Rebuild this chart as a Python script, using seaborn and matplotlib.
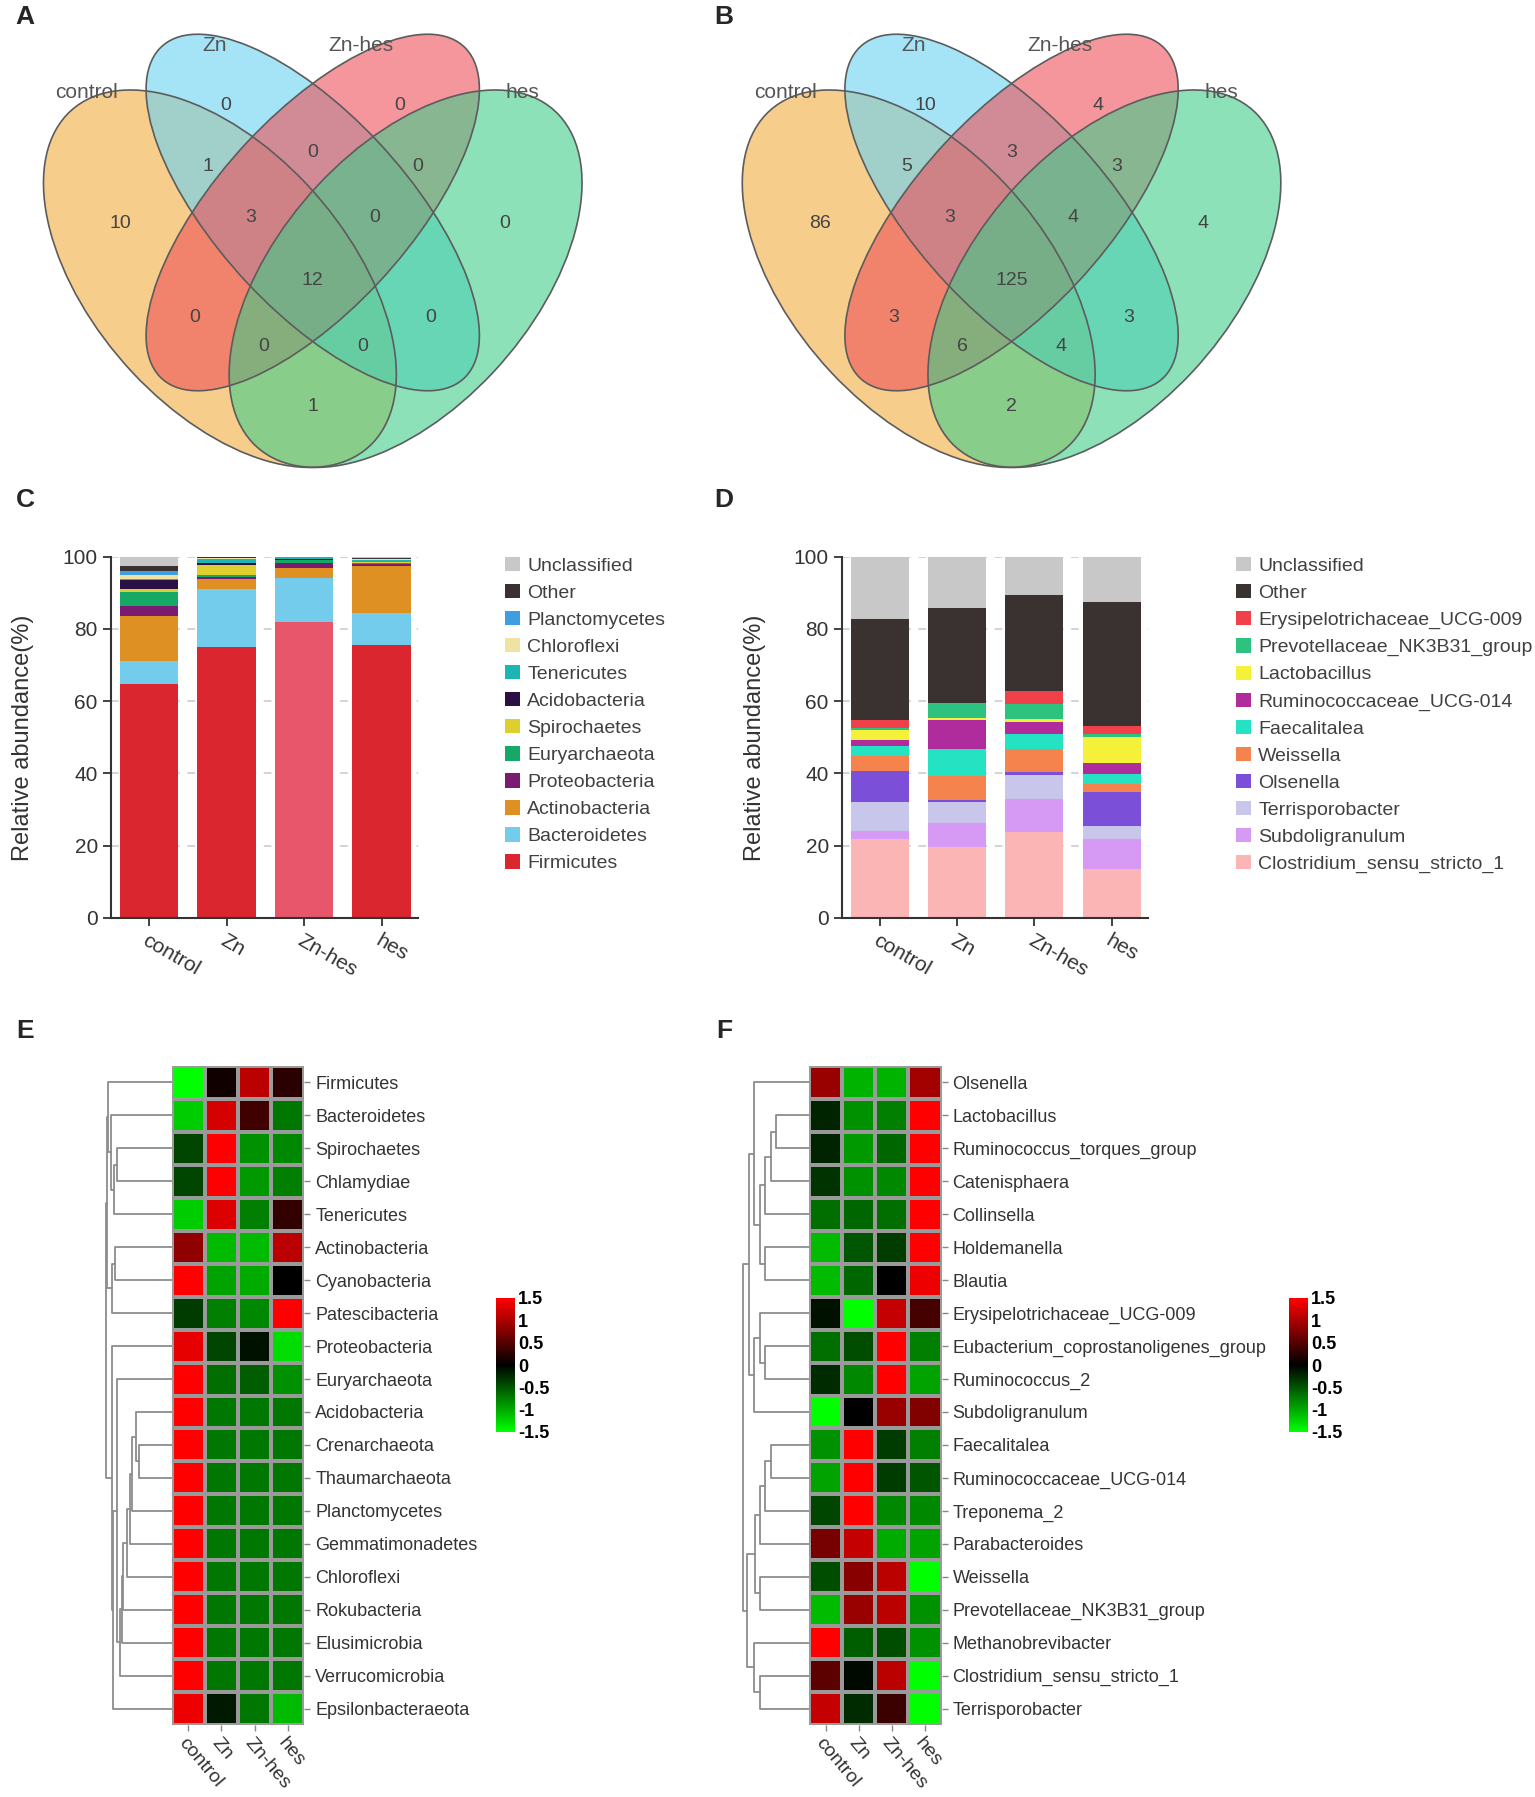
import numpy as np
import pandas as pd
import matplotlib
matplotlib.use("Agg")
import matplotlib.pyplot as plt
from matplotlib.patches import Ellipse, Patch
from matplotlib.colors import LinearSegmentedColormap, to_rgba
import seaborn as sns

W, H = 1535, 1797

groups = ["control", "Zn", "Zn-hes", "hes"]

# ---- Venn A / B ----
# region keys = which sets share the items (1=control, 2=Zn, 3=Zn-hes, 4=hes)
venn_regions = ["1", "2", "3", "4", "12", "23", "34", "13", "24", "14",
                "123", "234", "1234", "134", "124"]
venn_a_counts = [10, 0, 0, 0, 1, 0, 0, 0, 0, 1, 3, 0, 12, 0, 0]
venn_b_counts = [86, 10, 4, 4, 5, 3, 3, 3, 3, 2, 3, 4, 125, 6, 4]
venn_colors = ["#F2AC3F", "#69D2F2", "#EE5058", "#3FCD8A"]

# ---- C: phylum level relative abundance (bottom -> top) ----
phyla = ["Firmicutes", "Bacteroidetes", "Actinobacteria", "Proteobacteria",
         "Euryarchaeota", "Spirochaetes", "Acidobacteria", "Tenericutes",
         "Chloroflexi", "Planctomycetes", "Other", "Unclassified"]
phyla_control = [64.7, 6.5, 12.5, 2.7, 3.9, 0.7, 2.5, 0.3, 1.0, 1.2, 1.5, 2.5]
phyla_zn = [74.9, 16.1, 2.8, 0.7, 0.3, 2.9, 0.6, 1.2, 0.1, 0.1, 0.1, 0.2]
phyla_znhes = [82.0, 12.0, 3.0, 1.2, 0.9, 0.1, 0.1, 0.3, 0.1, 0.1, 0.1, 0.1]
phyla_hes = [75.6, 8.7, 13.2, 0.4, 0.3, 0.2, 0.2, 0.5, 0.2, 0.1, 0.2, 0.4]
phyla_colors = ["#D9262F", "#74CCEC", "#DE9122", "#7A1B72", "#16A865", "#DCCF2E",
                "#2B1046", "#1DB4B4", "#EEE3A2", "#3E9EE0", "#3A3230", "#C8C8C8"]

# ---- D: genus level relative abundance (bottom -> top) ----
genera = ["Clostridium_sensu_stricto_1", "Subdoligranulum", "Terrisporobacter",
          "Olsenella", "Weissella", "Faecalitalea", "Ruminococcaceae_UCG-014",
          "Lactobacillus", "Prevotellaceae_NK3B31_group",
          "Erysipelotrichaceae_UCG-009", "Other", "Unclassified"]
genera_control = [22.0, 2.0, 8.0, 8.6, 4.3, 2.8, 1.6, 2.6, 0.6, 2.2, 28.1, 17.2]
genera_zn = [19.7, 6.7, 5.7, 0.6, 6.5, 7.6, 7.9, 0.6, 4.1, 0.1, 26.3, 14.2]
genera_znhes = [23.9, 8.9, 6.7, 0.9, 6.3, 4.2, 3.3, 0.8, 4.2, 3.7, 26.5, 10.6]
genera_hes = [13.7, 8.3, 3.5, 9.5, 2.0, 2.8, 3.2, 7.0, 1.0, 2.2, 34.4, 12.4]
genera_colors = ["#FBB5B5", "#D69AF4", "#C9C6EC", "#7B4FD8", "#F5834D", "#25E2C2",
                 "#B02C9C", "#F5F03A", "#2DC27E", "#F0404A", "#3A3230", "#C8C8C8"]

# ---- E: phylum heatmap (row z-scores) ----
e_taxa = ["Firmicutes", "Bacteroidetes", "Spirochaetes", "Chlamydiae", "Tenericutes",
          "Actinobacteria", "Cyanobacteria", "Patescibacteria", "Proteobacteria",
          "Euryarchaeota", "Acidobacteria", "Crenarchaeota", "Thaumarchaeota",
          "Planctomycetes", "Gemmatimonadetes", "Chloroflexi", "Rokubacteria",
          "Elusimicrobia", "Verrucomicrobia", "Epsilonbacteraeota"]
e_values = [
    [-1.5, 0.1, 1.1, 0.25],
    [-1.2, 1.25, 0.38, -0.7],
    [-0.4, 1.5, -0.85, -0.8],
    [-0.4, 1.5, -0.9, -0.75],
    [-1.2, 1.3, -0.75, 0.3],
    [0.85, -1.1, -1.1, 1.1],
    [1.5, -0.95, -1.0, 0.0],
    [-0.35, -0.75, -0.8, 1.5],
    [1.35, -0.4, -0.1, -1.3],
    [1.5, -0.65, -0.55, -0.85],
    [1.5, -0.7, -0.7, -0.7],
    [1.5, -0.7, -0.7, -0.7],
    [1.5, -0.7, -0.7, -0.7],
    [1.5, -0.7, -0.7, -0.7],
    [1.5, -0.7, -0.7, -0.7],
    [1.5, -0.7, -0.7, -0.7],
    [1.5, -0.7, -0.7, -0.7],
    [1.5, -0.7, -0.7, -0.7],
    [1.5, -0.7, -0.7, -0.7],
    [1.4, -0.15, -0.7, -1.1],
]
# row tree: [child a, child b, height]
e_tree = [[11, 12, 32.4], [10, 20, 35.7], [21, 13, 40], [22, 14, 41.7],
          [23, 15, 45], [24, 16, 48.4], [25, 17, 50], [26, 18, 51.7],
          [2, 3, 55], [9, 27, 55], [5, 6, 56.7], [28, 4, 57.4], [29, 19, 58.4],
          [30, 7, 60], [8, 32, 60], [1, 31, 60.7], [0, 35, 63.4], [36, 33, 64.5],
          [37, 34, 66]]

# ---- F: genus heatmap ----
f_taxa = ["Olsenella", "Lactobacillus", "Ruminococcus_torques_group", "Catenisphaera",
          "Collinsella", "Holdemanella", "Blautia", "Erysipelotrichaceae_UCG-009",
          "Eubacterium_coprostanoligenes_group", "Ruminococcus_2", "Subdoligranulum",
          "Faecalitalea", "Ruminococcaceae_UCG-014", "Treponema_2", "Parabacteroides",
          "Weissella", "Prevotellaceae_NK3B31_group", "Methanobrevibacter",
          "Clostridium_sensu_stricto_1", "Terrisporobacter"]
f_values = [
    [0.9, -1.05, -1.05, 0.95],
    [-0.2, -0.85, -0.75, 1.5],
    [-0.2, -0.9, -0.6, 1.5],
    [-0.3, -0.85, -0.8, 1.5],
    [-0.65, -0.6, -0.65, 1.5],
    [-1.1, -0.5, -0.35, 1.5],
    [-1.1, -0.6, 0.0, 1.4],
    [-0.1, -1.5, 1.15, 0.4],
    [-0.65, -0.45, 1.5, -0.75],
    [-0.25, -0.8, 1.5, -0.95],
    [-1.5, 0.0, 0.9, 0.75],
    [-0.85, 1.5, -0.35, -0.75],
    [-0.95, 1.5, -0.35, -0.5],
    [-0.4, 1.5, -0.8, -0.8],
    [0.7, 1.15, -1.0, -0.95],
    [-0.45, 0.8, 1.1, -1.5],
    [-1.1, 0.9, 1.1, -0.85],
    [1.5, -0.55, -0.45, -0.85],
    [0.55, -0.05, 1.1, -1.5],
    [1.15, -0.25, 0.35, -1.5],
]
f_tree = [[1, 2, 33], [20, 3, 38.3], [21, 4, 44], [5, 6, 44], [22, 23, 49],
          [0, 24, 55], [8, 9, 44], [7, 26, 49], [27, 10, 55], [25, 28, 60],
          [11, 12, 38.3], [30, 13, 44], [31, 14, 49], [15, 16, 49], [32, 33, 54],
          [18, 19, 49], [17, 35, 55], [34, 36, 62], [29, 37, 66]]

sns.set_theme(style="white")
plt.rcParams["font.family"] = ["Liberation Sans", "DejaVu Sans"]
plt.rcParams["axes.unicode_minus"] = False

fig = plt.figure(figsize=(W / 100, H / 100), dpi=100)
fig.patch.set_facecolor("white")


def px_axes(x0, y0, x1, y1):
    return fig.add_axes([x0 / W, 1 - y1 / H, (x1 - x0) / W, (y1 - y0) / H])


# ================= Venn =================
ellipse_specs = [((0.35, 0.47), 0.35, 0.20, -45), ((0.50, 0.57), 0.35, 0.15, -45),
                 ((0.50, 0.57), 0.35, 0.15, 45), ((0.65, 0.47), 0.35, 0.20, 45)]
region_xy = {"1": (0.19, 0.554), "2": (0.36, 0.732), "3": (0.64, 0.732), "4": (0.81, 0.554),
             "12": (0.33, 0.64), "23": (0.5, 0.661), "34": (0.67, 0.64),
             "13": (0.31, 0.412), "24": (0.69, 0.412), "14": (0.5, 0.277),
             "123": (0.40, 0.562), "234": (0.60, 0.562), "1234": (0.5, 0.467),
             "134": (0.42, 0.368), "124": (0.58, 0.368)}
set_label_xy = [(0.135, 0.752), (0.341, 0.822), (0.578, 0.822), (0.839, 0.752)]


def draw_venn(ax, counts):
    ax.set_xlim(0.065, 0.935)
    ax.set_ylim(0.185, 0.839)
    ax.axis("off")
    for (c, a, b, ang), col in zip(ellipse_specs, venn_colors):
        ax.add_patch(Ellipse(c, 2 * a, 2 * b, angle=ang, facecolor=to_rgba(col, 0.6),
                             edgecolor="none", clip_on=False))
    for (c, a, b, ang) in ellipse_specs:
        ax.add_patch(Ellipse(c, 2 * a, 2 * b, angle=ang, facecolor="none",
                             edgecolor="#5c5c5c", lw=1.2, clip_on=False))
    for key, n in zip(venn_regions, counts):
        x, y = region_xy[key]
        ax.text(x, y, str(n), ha="center", va="center", fontsize=14, color="#444444")
    for (x, y), g in zip(set_label_xy, groups):
        ax.text(x, y, g, ha="center", va="center", fontsize=15, color="#555555")


draw_venn(px_axes(43.5, 34.4, 582, 467.4), venn_a_counts)
draw_venn(px_axes(742.3, 34.4, 1280.8, 467.4), venn_b_counts)


# ================= stacked bars =================
def draw_stack(ax, names, table, colors, legend_xy, override=None):
    x = np.arange(len(groups))
    bottom = np.zeros(len(groups))
    for name, col in zip(names, colors):
        vals = table[name].values
        cols = [override.get((g, name), col) if override else col for g in groups]
        ax.bar(x, vals, bottom=bottom, width=0.75, color=cols, linewidth=0, zorder=2)
        bottom += vals
    ax.set_xlim(-0.49, 3.47)
    ax.set_ylim(0, 100)
    ax.set_yticks(range(0, 101, 20))
    ax.set_xticks(x)
    ax.set_xticklabels(groups, rotation=-30, ha="left", rotation_mode="anchor")
    ax.grid(axis="y", color="#c8c8c8", ls=(0, (5, 5)), lw=1.1, zorder=0)
    ax.grid(axis="x", visible=False)
    for s in ["top", "right"]:
        ax.spines[s].set_visible(False)
    for s in ["left", "bottom"]:
        ax.spines[s].set_color("#333333")
        ax.spines[s].set_linewidth(1.5)
    ax.tick_params(length=6, width=1.3, color="#333333", labelsize=15,
                   labelcolor="#333333", left=True, bottom=True)
    ax.set_ylabel("Relative abundance(%)", fontsize=17, color="#333333")
    ax.yaxis.set_label_coords(-0.25, 0.5)
    handles = [Patch(facecolor=c, edgecolor="none") for c in colors][::-1]
    ax.legend(handles, names[::-1], loc="upper left", bbox_to_anchor=legend_xy,
              bbox_transform=fig.transFigure, frameon=False, fontsize=14,
              handlelength=0.75, handleheight=0.75, handletextpad=0.4,
              labelspacing=0.47, borderaxespad=0, borderpad=0, labelcolor="#404040")


phyla_table = pd.DataFrame([phyla_control, phyla_zn, phyla_znhes, phyla_hes],
                           index=groups, columns=phyla)
genera_table = pd.DataFrame([genera_control, genera_zn, genera_znhes, genera_hes],
                            index=groups, columns=genera)

axC = px_axes(111, 556.7, 418, 918)
draw_stack(axC, phyla, phyla_table, phyla_colors, (505 / W, 1 - 557 / H),
           override={("Zn-hes", "Firmicutes"): "#E8566B"})
axD = px_axes(842, 556.7, 1148, 918)
draw_stack(axD, genera, genera_table, genera_colors, (1236 / W, 1 - 557 / H))

# ================= heatmaps =================
cmap = LinearSegmentedColormap.from_list("gkr", ["#00FF00", "#000000", "#FF0000"])


def draw_dendro(dax, tree, n):
    pos = {i: (i + 0.5, 0.0) for i in range(n)}
    for k, (a, b, h) in enumerate(tree):
        ya, ha_ = pos[a]
        yb, hb = pos[b]
        dax.plot([ha_, h, h, hb], [ya, ya, yb, yb], color="#8c8c8c", lw=1.3)
        pos[n + k] = ((ya + yb) / 2, h)
    dax.set_xlim(72, 0)
    dax.set_ylim(n, 0)
    dax.axis("off")


def draw_heat(names, values, tree, x_left, cbar_left):
    top, bot = 1066, 1725
    ax = px_axes(x_left, top, x_left + 132.5, bot)
    cax = px_axes(cbar_left, 1298, cbar_left + 19, 1432)
    dax = px_axes(x_left - 72, top, x_left, bot)
    df = pd.DataFrame(values, index=names, columns=groups)
    sns.heatmap(df, ax=ax, cbar_ax=cax, cmap=cmap, vmin=-1.5, vmax=1.5,
                linewidths=1.5, linecolor="#9a9a9a", xticklabels=True, yticklabels=True)
    ax.yaxis.tick_right()
    ax.tick_params(axis="y", length=4, width=1, color="#888888", labelsize=13,
                   labelcolor="#333333", labelrotation=0, pad=4, right=True, left=False)
    ax.tick_params(axis="x", length=4, width=1, color="#888888", labelsize=14,
                   labelcolor="#333333", pad=3, bottom=True)
    plt.setp(ax.get_xticklabels(), rotation=-50, ha="left", rotation_mode="anchor")
    ax.set_xlabel("")
    ax.set_ylabel("")
    cbar = ax.collections[0].colorbar
    cbar.set_ticks([1.5, 1, 0.5, 0, -0.5, -1, -1.5])
    cbar.set_ticklabels(["1.5", "1", "0.5", "0", "-0.5", "-1", "-1.5"])
    cbar.outline.set_visible(False)
    cax.tick_params(length=4, width=1, color="white", direction="in", labelsize=13,
                    pad=2, left=True, right=True, labelcolor="black")
    for t in cax.get_yticklabels():
        t.set_fontweight("bold")
    draw_dendro(dax, tree, len(names))


draw_heat(e_taxa, e_values, e_tree, 171.7, 496)
draw_heat(f_taxa, f_values, f_tree, 809, 1289)

# panel letters
for letter, (x, y) in zip("ABCDEF", [(25, 17), (724, 17), (25, 500), (724, 500),
                                      (25, 1031), (724, 1031)]):
    fig.text(x / W, 1 - y / H, letter, fontsize=19, fontweight="bold",
             ha="center", va="center")

fig.savefig("out.png", dpi=100, facecolor="white")
